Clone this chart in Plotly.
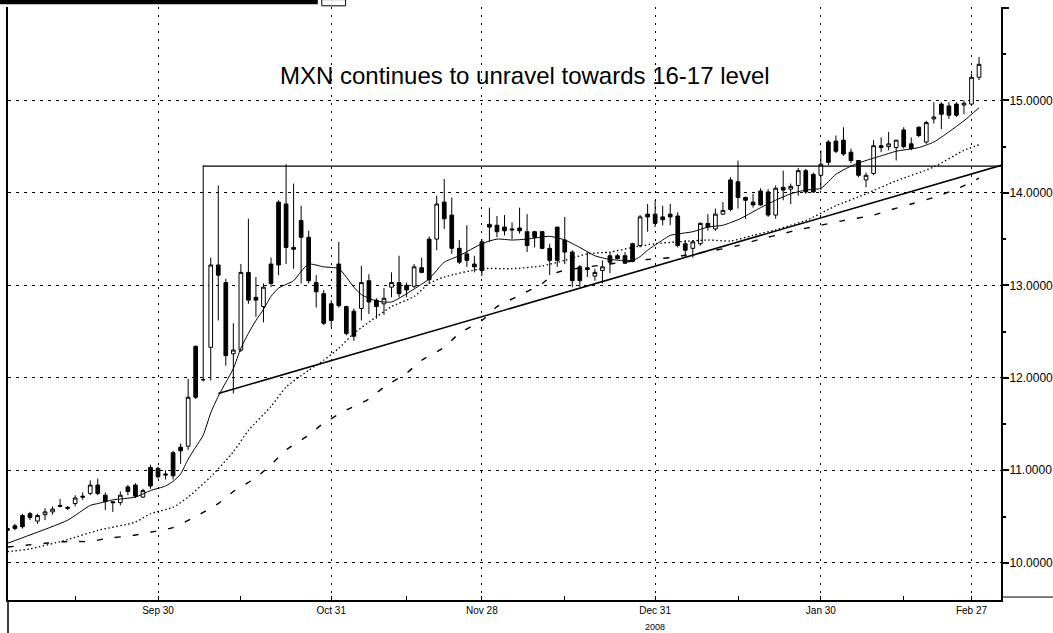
import pandas as pd
import plotly.graph_objects as go

# ---- data ----
dates = pd.bdate_range("2008-09-02", "2009-03-02")  # one candle per weekday

opens = [10.37, 10.40, 10.51, 10.53, 10.45, 10.52, 10.55, 10.62, 10.60, 10.64,
         10.72, 10.75, 10.84, 10.73, 10.66, 10.65, 10.82, 10.84, 10.71, 11.03,
         11.02, 10.96, 11.19, 11.25, 11.26, 12.34, 11.98, 12.33, 13.22, 13.03,
         12.26, 12.30, 13.14, 12.87, 12.77, 13.23, 13.90, 13.88, 13.41, 13.70,
         13.52, 13.03, 12.91, 12.80, 13.23, 12.77, 12.72, 12.75, 13.05, 12.84,
         12.80, 12.98, 13.03, 13.00, 12.99, 13.19, 13.50, 13.50, 13.90, 13.76,
         13.40, 13.34, 13.23, 13.47, 13.66, 13.65, 13.63, 13.61, 13.62, 13.58,
         13.58, 13.58, 13.40, 13.63, 13.49, 13.36, 13.20, 13.19, 13.10, 13.16,
         13.32, 13.32, 13.32, 13.45, 13.43, 13.77, 13.77, 13.74, 13.77, 13.75,
         13.45, 13.40, 13.45, 13.67, 13.61, 13.77, 14.14, 14.12, 13.95, 13.90,
         14.02, 14.01, 13.76, 14.06, 14.04, 14.08, 14.24, 14.20, 14.19, 14.55,
         14.56, 14.57, 14.44, 14.35, 14.14, 14.21, 14.51, 14.50, 14.49, 14.68,
         14.53, 14.71, 14.55, 14.80, 14.96, 14.94, 14.96, 14.95, 14.96, 15.25]
highs = [10.39, 10.42, 10.53, 10.55, 10.53, 10.59, 10.61, 10.69, 10.61, 10.73,
         10.76, 10.89, 10.91, 10.76, 10.66, 10.77, 10.84, 10.86, 10.80, 11.06,
         11.04, 11.00, 11.21, 11.29, 11.99, 12.35, 14.30, 13.30, 14.08, 13.07,
         12.59, 13.23, 13.72, 13.09, 13.02, 13.30, 13.92, 14.31, 14.10, 13.86,
         13.59, 13.11, 12.95, 12.84, 13.47, 12.78, 12.75, 13.21, 13.12, 12.86,
         12.97, 13.14, 13.32, 13.03, 13.23, 13.30, 13.53, 13.97, 14.15, 13.95,
         13.49, 13.65, 13.32, 13.50, 13.84, 13.75, 13.76, 13.68, 13.84, 13.77,
         13.59, 13.59, 13.45, 13.63, 13.74, 13.38, 13.22, 13.36, 13.18, 13.27,
         13.36, 13.34, 13.36, 13.46, 13.76, 13.88, 13.92, 13.86, 13.88, 13.79,
         13.49, 13.49, 13.68, 13.77, 13.83, 13.90, 14.17, 14.35, 13.96, 13.99,
         14.05, 14.04, 14.08, 14.24, 14.10, 14.27, 14.26, 14.22, 14.46, 14.57,
         14.62, 14.71, 14.48, 14.35, 14.22, 14.57, 14.60, 14.66, 14.57, 14.71,
         14.60, 14.72, 14.78, 14.98, 14.98, 14.98, 14.98, 15.00, 15.29, 15.47]
lows = [10.32, 10.35, 10.37, 10.46, 10.42, 10.46, 10.52, 10.60, 10.57, 10.61,
        10.68, 10.73, 10.73, 10.57, 10.55, 10.62, 10.73, 10.70, 10.70, 10.80,
        10.91, 10.90, 10.90, 11.07, 11.22, 11.77, 11.96, 11.97, 12.62, 12.13,
        11.83, 12.28, 12.80, 12.66, 12.60, 12.98, 13.11, 13.23, 13.18, 13.02,
        13.02, 12.76, 12.57, 12.55, 12.76, 12.46, 12.40, 12.62, 12.69, 12.64,
        12.68, 12.87, 12.87, 12.87, 12.97, 13.13, 13.02, 13.38, 13.61, 13.34,
        13.23, 13.20, 13.14, 13.10, 13.47, 13.52, 13.54, 13.50, 13.56, 13.36,
        13.41, 13.39, 13.11, 13.20, 13.23, 12.98, 12.98, 13.09, 13.05, 13.02,
        13.13, 13.28, 13.23, 13.25, 13.41, 13.58, 13.63, 13.65, 13.65, 13.41,
        13.30, 13.30, 13.43, 13.59, 13.59, 13.76, 13.80, 13.83, 13.72, 13.84,
        13.86, 13.74, 13.72, 13.92, 13.88, 13.97, 13.99, 14.00, 14.03, 14.30,
        14.43, 14.40, 14.32, 14.17, 14.06, 14.19, 14.44, 14.46, 14.35, 14.48,
        14.46, 14.60, 14.53, 14.75, 14.69, 14.80, 14.82, 14.85, 14.94, 15.22]
closes = [10.35, 10.37, 10.39, 10.49, 10.51, 10.55, 10.58, 10.61, 10.59, 10.70,
          10.71, 10.84, 10.75, 10.66, 10.65, 10.73, 10.77, 10.72, 10.78, 10.83,
          10.93, 10.95, 10.94, 11.21, 11.79, 11.79, 11.98, 13.22, 13.11, 12.24,
          12.30, 13.14, 12.84, 12.84, 12.98, 13.02, 13.22, 13.41, 13.39, 13.52,
          13.05, 12.93, 12.59, 12.62, 12.78, 12.48, 12.45, 13.03, 12.82, 12.77,
          12.86, 13.03, 12.91, 12.95, 13.20, 13.14, 13.06, 13.88, 13.72, 13.40,
          13.25, 13.27, 13.20, 13.16, 13.63, 13.58, 13.59, 13.60, 13.59, 13.43,
          13.52, 13.40, 13.27, 13.27, 13.36, 13.05, 13.05, 13.17, 13.14, 13.20,
          13.25, 13.29, 13.24, 13.26, 13.74, 13.74, 13.67, 13.71, 13.74, 13.43,
          13.38, 13.47, 13.67, 13.63, 13.77, 13.81, 13.82, 13.95, 13.92, 13.87,
          13.87, 13.76, 14.05, 14.03, 14.07, 14.24, 14.01, 14.01, 14.31, 14.33,
          14.45, 14.42, 14.35, 14.19, 14.19, 14.51, 14.49, 14.53, 14.57, 14.50,
          14.48, 14.62, 14.76, 14.82, 14.85, 14.84, 14.84, 14.97, 15.25, 15.39]

# moving-average lines, read at sample days (index into `dates`)
ma_short_day = [0, 3, 8, 11, 12, 14, 17, 19, 21, 22, 23, 24, 25, 26, 27, 28, 29, 30,
                31, 32, 33, 34, 35, 36, 37, 38, 39, 40, 42, 44, 46, 47, 49, 51, 52,
                54, 56, 58, 60, 63, 65, 67, 69, 72, 74, 76, 78, 80, 83, 84, 85, 87,
                88, 91, 93, 95, 97, 98, 100, 102, 104, 106, 108, 110, 112, 114, 116,
                118, 121, 123, 125, 127, 129]
ma_short_val = [10.21, 10.30, 10.46, 10.62, 10.64, 10.68, 10.71, 10.78, 10.83, 10.88,
                10.96, 11.12, 11.25, 11.38, 11.62, 11.80, 11.95, 12.10, 12.32, 12.48,
                12.62, 12.74, 12.88, 12.97, 13.01, 13.05, 13.15, 13.23, 13.20, 13.18,
                12.98, 12.90, 12.83, 12.82, 12.86, 12.96, 13.07, 13.25, 13.32, 13.45,
                13.50, 13.49, 13.50, 13.53, 13.49, 13.41, 13.32, 13.28, 13.27, 13.31,
                13.38, 13.49, 13.54, 13.58, 13.63, 13.65, 13.71, 13.75, 13.84, 13.92,
                13.99, 14.03, 14.05, 14.20, 14.29, 14.35, 14.40, 14.45, 14.49, 14.55,
                14.66, 14.78, 14.92]
ma_mid_day = [0, 3, 8, 12, 17, 19, 22, 24, 27, 30, 32, 35, 37, 40, 42, 44, 46, 49,
              51, 54, 56, 58, 63, 67, 71, 74, 77, 80, 83, 86, 89, 93, 96, 99, 102,
              104, 106, 110, 114, 118, 123, 127, 129]
ma_mid_val = [10.12, 10.15, 10.25, 10.35, 10.44, 10.53, 10.60, 10.71, 10.93, 11.20,
              11.43, 11.69, 11.90, 12.08, 12.19, 12.32, 12.48, 12.66, 12.77, 12.88,
              13.02, 13.09, 13.18, 13.18, 13.21, 13.27, 13.34, 13.36, 13.41, 13.45,
              13.47, 13.49, 13.48, 13.54, 13.60, 13.65, 13.70, 13.86, 13.99, 14.13,
              14.28, 14.46, 14.52]
ma_long_day = [0, 5, 8, 11, 13, 17, 19, 22, 25, 28, 30, 33, 35, 37, 40, 42, 45, 48,
               50, 53, 55, 58, 60, 63, 65, 68, 71, 73, 79, 85, 88, 94, 97, 100, 103,
               105, 108, 111, 115, 117, 120, 123, 126, 129]
ma_long_val = [10.17, 10.21, 10.23, 10.23, 10.26, 10.30, 10.33, 10.38, 10.50, 10.64,
               10.77, 10.92, 11.06, 11.22, 11.38, 11.51, 11.65, 11.77, 11.90, 12.05,
               12.19, 12.33, 12.48, 12.62, 12.77, 12.89, 13.02, 13.14, 13.22, 13.28,
               13.30, 13.38, 13.43, 13.50, 13.56, 13.60, 13.65, 13.70, 13.76, 13.81,
               13.88, 13.95, 14.04, 14.16]

# drawn study lines: resistance and rising support
resist_x = ["2008-10-08", "2009-03-05"]
resist_y = [14.29, 14.29]
support_x = ["2008-10-10", "2009-03-05"]
support_y = [11.83, 14.30]

tick_dates = ["2008-09-30", "2008-10-31", "2008-11-28", "2008-12-31", "2009-01-30", "2009-02-27"]
tick_text = ["Sep 30", "Oct 31", "Nov 28", "Dec 31", "Jan 30", "Feb 27"]
minor_dates = ["2008-09-15", "2008-10-15", "2008-11-14", "2008-12-15", "2009-01-15", "2009-02-16"]
y_ticks = [10, 11, 12, 13, 14, 15, 16]
y_text = ["10.0000", "11.0000", "12.0000", "13.0000", "14.0000", "15.0000", ""]

title_text = "MXN continues to unravel towards 16-17 level"
year_text = "2008"

# ---- figure ----
fig = go.Figure()
fig.add_trace(go.Candlestick(
    x=dates, open=opens, high=highs, low=lows, close=closes,
    increasing=dict(line=dict(color="black", width=1), fillcolor="white"),
    decreasing=dict(line=dict(color="black", width=1), fillcolor="black"),
    whiskerwidth=0, hoverinfo="skip", showlegend=False,
))


def day_dates(idx):
    return [dates[i] for i in idx]


fig.add_trace(go.Scatter(x=day_dates(ma_short_day), y=ma_short_val, mode="lines",
                         line=dict(color="black", width=1, shape="spline", smoothing=0.6),
                         hoverinfo="skip", showlegend=False))
fig.add_trace(go.Scatter(x=day_dates(ma_mid_day), y=ma_mid_val, mode="lines",
                         line=dict(color="black", width=1.3, dash="1.5px,2.5px", shape="spline", smoothing=0.6),
                         hoverinfo="skip", showlegend=False))
fig.add_trace(go.Scatter(x=day_dates(ma_long_day), y=ma_long_val, mode="lines",
                         line=dict(color="black", width=1.4, dash="6px,12px", shape="spline", smoothing=0.6),
                         hoverinfo="skip", showlegend=False))
fig.add_trace(go.Scatter(x=resist_x, y=resist_y, mode="lines",
                         line=dict(color="black", width=1.2), hoverinfo="skip", showlegend=False))
fig.add_trace(go.Scatter(x=support_x, y=support_y, mode="lines",
                         line=dict(color="black", width=1.6), hoverinfo="skip", showlegend=False))

fig.update_layout(
    width=1053, height=633,
    margin=dict(l=8, r=52, t=7, b=33, autoexpand=False),
    paper_bgcolor="white", plot_bgcolor="white",
    font=dict(family="Liberation Sans, Arial, sans-serif", color="black"),
    showlegend=False,
    xaxis=dict(
        type="date",
        range=["2008-09-02 02:00", "2009-03-04 22:00"],
        rangebreaks=[dict(bounds=["sat", "mon"])],
        rangeslider=dict(visible=False),
        tickmode="array", tickvals=tick_dates, ticktext=tick_text,
        tickfont=dict(size=10, family="Liberation Sans Narrow, Liberation Sans, Arial"),
        ticks="inside", ticklen=4, tickcolor="black",
        minor=dict(tickmode="array", tickvals=minor_dates, ticks="inside", ticklen=4,
                   tickcolor="black", showgrid=False),
        showgrid=True, gridcolor="black", gridwidth=1, griddash="2px,6px",
        showline=True, linecolor="black", linewidth=2,
        zeroline=False, fixedrange=True,
    ),
    yaxis=dict(
        side="right",
        range=[9.597, 16.01],
        tickmode="array", tickvals=y_ticks, ticktext=y_text,
        tickfont=dict(size=12),
        ticks="outside", ticklen=6, tickwidth=2, tickcolor="black",
        ticklabelstandoff=-2,
        minor=dict(tickmode="linear", tick0=9.5, dtick=0.5, ticks="outside", ticklen=3,
                   tickcolor="black", showgrid=False),
        showgrid=True, gridcolor="black", gridwidth=1, griddash="3px,5px",
        showline=True, linecolor="black", linewidth=2, mirror=True,
        zeroline=False, fixedrange=True,
    ),
    annotations=[
        dict(text=title_text, xref="paper", yref="paper", x=0.521, y=0.885,
             showarrow=False, font=dict(size=24, family="Liberation Sans, Arial"),
             xanchor="center", yanchor="middle"),
        dict(text=year_text, xref="x", yref="paper", x="2008-12-31", y=-0.0455,
             showarrow=False, font=dict(size=9, family="Liberation Sans Narrow, Liberation Sans, Arial"),
             xanchor="center", yanchor="middle"),
    ],
    shapes=[
        # window frame fragments around the chart
        dict(type="rect", xref="paper", yref="paper", x0=-0.0081, x1=0.312, y0=1.0045, y1=1.0125,
             fillcolor="black", line=dict(width=0)),
        dict(type="rect", xref="paper", yref="paper", x0=0.316, x1=0.340, y0=1.002, y1=1.0125,
             fillcolor="white", line=dict(color="black", width=1)),
        dict(type="line", xref="paper", yref="paper", x0=1.0, x1=1.06, y0=0.005, y1=0.005,
             line=dict(color="black", width=1)),
        dict(type="line", xref="paper", yref="paper", x0=0.0, x1=0.0, y0=-0.06, y1=0.0,
             line=dict(color="black", width=1.5)),
    ],
)

fig.write_html(
    "out.html",
    config={"displayModeBar": False},
    post_script="document.body.style.margin='0';document.body.style.overflow='hidden';",
)
